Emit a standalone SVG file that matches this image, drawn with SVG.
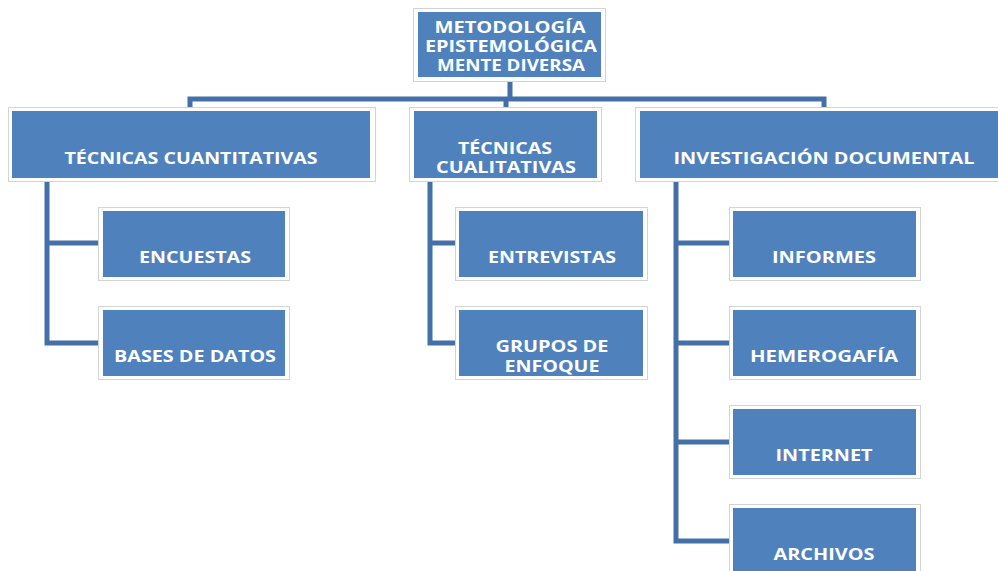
<svg xmlns="http://www.w3.org/2000/svg" width="998" height="571" viewBox="0 0 998 571">
<defs>
<style>
.o{fill:#fff;stroke:#d4d4d4;stroke-width:1}
.b{fill:#4f81bd}
.t{font-family:"Open Sans","Liberation Sans",sans-serif;font-weight:bold;font-size:16px;fill:#fff;text-anchor:middle}
.c{fill:none;stroke:#4470a8;stroke-width:5;stroke-linejoin:miter}
</style>
</defs>
<rect width="998" height="571" fill="#fff"/>
<g id="connectors">
<path class="c" d="M510 79V99M190 108V99H824V108M506 99V108"/>
<path class="c" d="M47 180V343H100M47 243H100"/>
<path class="c" d="M430 180V343H457M430 243H457"/>
<path class="c" d="M676 180V541H731M676 243H731M676 343H731M676 442H731"/>
</g>
<g id="root"><rect class="o" x="413.5" y="8.5" width="192" height="73"/><rect class="b" x="418" y="12" width="183" height="65"/>
<text class="t" x="510" y="33" textLength="151" lengthAdjust="spacingAndGlyphs">METODOLOGÍA</text><text class="t" x="511" y="52" textLength="172" lengthAdjust="spacingAndGlyphs">EPISTEMOLÓGICA</text><text class="t" x="511" y="71" textLength="148" lengthAdjust="spacingAndGlyphs">MENTE DIVERSA</text></g>
<g id="cuantitativas"><rect class="o" x="8.5" y="107.5" width="367" height="74"/><rect class="b" x="12" y="111" width="358" height="67"/>
<text class="t" x="191" y="164" textLength="253" lengthAdjust="spacingAndGlyphs">TÉCNICAS CUANTITATIVAS</text></g>
<g id="cualitativas"><rect class="o" x="409.5" y="107.5" width="192" height="74"/><rect class="b" x="414" y="111" width="183" height="67"/>
<text class="t" x="505" y="154" textLength="94" lengthAdjust="spacingAndGlyphs">TÉCNICAS</text><text class="t" x="506" y="173" textLength="140" lengthAdjust="spacingAndGlyphs">CUALITATIVAS</text></g>
<g id="documental"><rect class="o" x="635.5" y="107.5" width="370" height="74"/><rect class="b" x="640" y="111" width="370" height="67"/>
<text class="t" x="824" y="164" textLength="301" lengthAdjust="spacingAndGlyphs">INVESTIGACIÓN DOCUMENTAL</text></g>
<g id="encuestas"><rect class="o" x="98.5" y="207.5" width="191" height="73"/><rect class="b" x="103" y="211" width="182" height="66"/>
<text class="t" x="195" y="263" textLength="112" lengthAdjust="spacingAndGlyphs">ENCUESTAS</text></g>
<g id="bases"><rect class="o" x="98.5" y="306.5" width="191" height="73"/><rect class="b" x="103" y="310" width="182" height="66"/>
<text class="t" x="195" y="362" textLength="162" lengthAdjust="spacingAndGlyphs">BASES DE DATOS</text></g>
<g id="entrevistas"><rect class="o" x="455.5" y="207.5" width="192" height="73"/><rect class="b" x="459" y="211" width="184" height="66"/>
<text class="t" x="552" y="263" textLength="128" lengthAdjust="spacingAndGlyphs">ENTREVISTAS</text></g>
<g id="grupos"><rect class="o" x="455.5" y="306.5" width="192" height="73"/><rect class="b" x="459" y="310" width="184" height="66"/>
<text class="t" x="552" y="352" textLength="113" lengthAdjust="spacingAndGlyphs">GRUPOS DE</text><text class="t" x="552" y="372" textLength="95" lengthAdjust="spacingAndGlyphs">ENFOQUE</text></g>
<g id="informes"><rect class="o" x="729.5" y="207.5" width="191" height="73"/><rect class="b" x="733" y="211" width="183" height="66"/>
<text class="t" x="824" y="263" textLength="104" lengthAdjust="spacingAndGlyphs">INFORMES</text></g>
<g id="hemerografia"><rect class="o" x="729.5" y="306.5" width="191" height="73"/><rect class="b" x="733" y="310" width="183" height="66"/>
<text class="t" x="824" y="362" textLength="148" lengthAdjust="spacingAndGlyphs">HEMEROGAFÍA</text></g>
<g id="internet"><rect class="o" x="729.5" y="405.5" width="191" height="73"/><rect class="b" x="733" y="409" width="183" height="66"/>
<text class="t" x="824" y="461" textLength="97" lengthAdjust="spacingAndGlyphs">INTERNET</text></g>
<g id="archivos"><rect class="o" x="729.5" y="504.5" width="191" height="73"/><rect class="b" x="733" y="508" width="183" height="66"/>
<text class="t" x="824" y="560" textLength="101" lengthAdjust="spacingAndGlyphs">ARCHIVOS</text></g>
</svg>
